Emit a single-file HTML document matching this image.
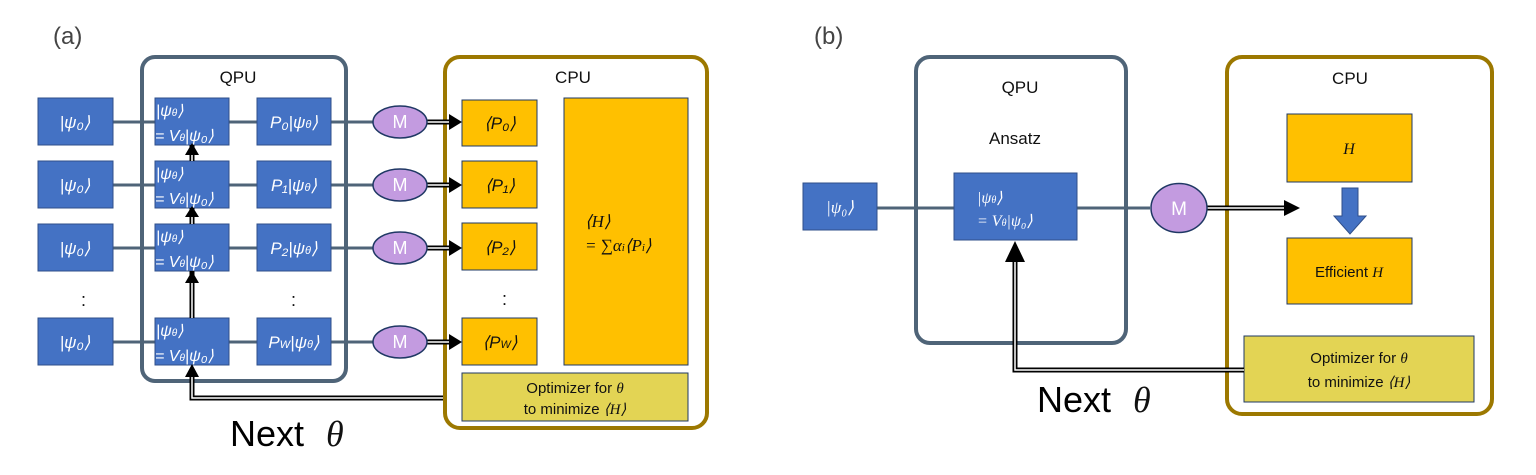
<!DOCTYPE html>
<html><head><meta charset="utf-8"><style>
html,body{margin:0;padding:0;background:#fff;}
svg{display:block;}
text{font-family:"Liberation Sans",sans-serif;}
.m{font-family:"Liberation Serif",serif;font-style:italic;fill:#fff;}
.mk{font-family:"Liberation Serif",serif;font-style:italic;fill:#111;}
</style></head><body>
<svg width="1536" height="475" viewBox="0 0 1536 475" xmlns="http://www.w3.org/2000/svg">
<text x="53" y="44" font-size="24" fill="#444">(a)</text>
<text x="814" y="44" font-size="24" fill="#444">(b)</text>

<g stroke="#4f6478" stroke-width="3">
<line x1="113" y1="122" x2="400" y2="122"/>
<line x1="113" y1="185" x2="400" y2="185"/>
<line x1="113" y1="248" x2="400" y2="248"/>
<line x1="113" y1="342" x2="400" y2="342"/>
</g>
<rect x="142" y="57" width="204" height="324" rx="13" fill="none" stroke="#4f6478" stroke-width="4"/>
<text x="238" y="83" font-size="17" fill="#111" text-anchor="middle">QPU</text>

<g fill="#4472c4" stroke="#2f4f8a" stroke-width="1">
<rect x="38" y="98" width="75" height="47"/><rect x="38" y="161" width="75" height="47"/>
<rect x="38" y="224" width="75" height="47"/><rect x="38" y="318" width="75" height="47"/>
<rect x="155" y="98" width="74" height="47"/><rect x="155" y="161" width="74" height="47"/>
<rect x="155" y="224" width="74" height="47"/><rect x="155" y="318" width="74" height="47"/>
<rect x="257" y="98" width="74" height="47"/><rect x="257" y="161" width="74" height="47"/>
<rect x="257" y="224" width="74" height="47"/><rect x="257" y="318" width="74" height="47"/>
</g>
<g class="m" font-size="17" text-anchor="middle">
<text x="75" y="128">|ψ₀⟩</text><text x="75" y="191">|ψ₀⟩</text><text x="75" y="254">|ψ₀⟩</text><text x="75" y="348">|ψ₀⟩</text>
<text x="294" y="128">P₀|ψ<tspan font-size="11">θ</tspan>⟩</text>
<text x="294" y="191">P₁|ψ<tspan font-size="11">θ</tspan>⟩</text>
<text x="294" y="254">P₂|ψ<tspan font-size="11">θ</tspan>⟩</text>
<text x="294" y="348">P<tspan font-size="11">W</tspan>|ψ<tspan font-size="11">θ</tspan>⟩</text>
</g>
<g class="m" font-size="16">
<text x="156" y="116">|ψ<tspan font-size="10">θ</tspan>⟩</text><text x="155" y="141">= V<tspan font-size="10">θ</tspan>|ψ₀⟩</text>
<text x="156" y="179">|ψ<tspan font-size="10">θ</tspan>⟩</text><text x="155" y="204">= V<tspan font-size="10">θ</tspan>|ψ₀⟩</text>
<text x="156" y="242">|ψ<tspan font-size="10">θ</tspan>⟩</text><text x="155" y="267">= V<tspan font-size="10">θ</tspan>|ψ₀⟩</text>
<text x="156" y="336">|ψ<tspan font-size="10">θ</tspan>⟩</text><text x="155" y="361">= V<tspan font-size="10">θ</tspan>|ψ₀⟩</text>
</g>
<text x="81" y="306" font-size="18" fill="#111">:</text>
<text x="291" y="306" font-size="18" fill="#111">:</text>

<g fill="none">
<path d="M192 318 V271 M192 224 V208 M192 161 V145" stroke="#000" stroke-width="5"/>
<path d="M192 318 V282 M192 224 V215 M192 161 V154" stroke="#fff" stroke-width="1.5"/>
<path d="M443 398 H192 V372" stroke="#000" stroke-width="5"/>
<path d="M443 398 H192 V376" stroke="#fff" stroke-width="1.5"/>
</g>
<g fill="#000">
<path d="M185 155 L199 155 L192 143 z"/><path d="M185 217 L199 217 L192 206 z"/>
<path d="M185 283 L199 283 L192 271 z"/><path d="M185 377 L199 377 L192 364 z"/>
</g>

<rect x="445" y="57" width="262" height="371" rx="15" fill="none" stroke="#9c7800" stroke-width="4"/>
<text x="573" y="83" font-size="17" fill="#111" text-anchor="middle">CPU</text>
<g fill="#ffc000" stroke="#1f3864" stroke-width="1">
<rect x="462" y="100" width="75" height="46"/><rect x="462" y="161" width="75" height="47"/>
<rect x="462" y="223" width="75" height="47"/><rect x="462" y="318" width="75" height="47"/>
<rect x="564" y="98" width="124" height="267"/>
</g>
<rect x="462" y="373" width="226" height="48" fill="#e3d454" stroke="#1f3864" stroke-width="1"/>
<g class="mk" font-size="17" text-anchor="middle">
<text x="500" y="129">⟨P₀⟩</text><text x="500" y="191">⟨P₁⟩</text><text x="500" y="253">⟨P₂⟩</text>
<text x="500" y="348">⟨P<tspan font-size="11">W</tspan>⟩</text>
</g>
<text x="502" y="305" font-size="18" fill="#111">:</text>
<text class="mk" x="585" y="227" font-size="17">⟨H⟩</text>
<text class="mk" x="585" y="251" font-size="17">= ∑α<tspan font-size="11">i</tspan>⟨P<tspan font-size="11">i</tspan>⟩</text>
<text x="575" y="393" font-size="15" fill="#111" text-anchor="middle">Optimizer for <tspan class="mk">θ</tspan></text>
<text x="575" y="414" font-size="15" fill="#111" text-anchor="middle">to minimize <tspan class="mk">⟨H⟩</tspan></text>

<g>
<path d="M427 122 H455 M427 185 H455 M427 248 H455 M427 342 H455" stroke="#000" stroke-width="5"/>
<path d="M427 122 H452 M427 185 H452 M427 248 H452 M427 342 H452" stroke="#fff" stroke-width="1.5"/>
<path d="M449 114 L462 122 L449 130z M449 177 L462 185 L449 193z M449 240 L462 248 L449 256z M449 334 L462 342 L449 350z" fill="#000"/>
<g fill="#c39be0" stroke="#1f3864" stroke-width="1.5">
<ellipse cx="400" cy="122" rx="27" ry="16"/><ellipse cx="400" cy="185" rx="27" ry="16"/>
<ellipse cx="400" cy="248" rx="27" ry="16"/><ellipse cx="400" cy="342" rx="27" ry="16"/>
</g>
<g font-size="18" fill="#fff" text-anchor="middle">
<text x="400" y="128">M</text><text x="400" y="191">M</text><text x="400" y="254">M</text><text x="400" y="348">M</text>
</g>
</g>
<text x="230" y="446" font-size="36" fill="#000">Next <tspan class="mk" fill="#000" dx="12">θ</tspan></text>

<line x1="877" y1="208" x2="1150" y2="208" stroke="#4f6478" stroke-width="3"/>
<rect x="916" y="57" width="210" height="286" rx="14" fill="none" stroke="#4f6478" stroke-width="4"/>
<text x="1020" y="93" font-size="17" fill="#111" text-anchor="middle">QPU</text>
<text x="1015" y="144" font-size="17" fill="#111" text-anchor="middle">Ansatz</text>
<rect x="803" y="183" width="74" height="47" fill="#4472c4" stroke="#2f4f8a"/>
<text class="m" x="840" y="213" font-size="17" text-anchor="middle">|ψ₀⟩</text>
<rect x="954" y="173" width="123" height="67" fill="#4472c4" stroke="#2f4f8a"/>
<text class="m" x="977" y="203" font-size="16">|ψ<tspan font-size="10">θ</tspan>⟩</text>
<text class="m" x="977" y="226" font-size="16">= V<tspan font-size="10">θ</tspan>|ψ₀⟩</text>
<rect x="1227" y="57" width="265" height="357" rx="15" fill="none" stroke="#9c7800" stroke-width="4"/>
<text x="1350" y="84" font-size="17" fill="#111" text-anchor="middle">CPU</text>
<rect x="1287" y="114" width="125" height="68" fill="#ffc000" stroke="#1f3864"/>
<text class="mk" x="1349" y="154" font-size="16" text-anchor="middle">H</text>
<path d="M1342 188 H1358 V216 H1366 L1350 234 L1334 216 H1342 z" fill="#4472c4" stroke="#2f4f8a"/>
<rect x="1287" y="238" width="125" height="66" fill="#ffc000" stroke="#1f3864"/>
<text x="1349" y="277" font-size="15" fill="#111" text-anchor="middle">Efficient <tspan class="mk">H</tspan></text>
<rect x="1244" y="336" width="230" height="66" fill="#e3d454" stroke="#1f3864"/>
<text x="1359" y="363" font-size="15" fill="#111" text-anchor="middle">Optimizer for <tspan class="mk">θ</tspan></text>
<text x="1359" y="387" font-size="15" fill="#111" text-anchor="middle">to minimize <tspan class="mk">⟨H⟩</tspan></text>
<path d="M1205 208 H1288" stroke="#000" stroke-width="5"/>
<path d="M1205 208 H1285" stroke="#fff" stroke-width="1.5"/>
<path d="M1284 200 L1300 208 L1284 216z" fill="#000"/>
<ellipse cx="1179" cy="208" rx="28" ry="24.5" fill="#c39be0" stroke="#1f3864" stroke-width="1.5"/>
<text x="1179" y="215" font-size="19" fill="#fff" text-anchor="middle">M</text>
<path d="M1244 370 H1015 V255" stroke="#000" stroke-width="5" fill="none"/>
<path d="M1244 370 H1015 V258" stroke="#fff" stroke-width="1.5" fill="none"/>
<path d="M1005 262 L1025 262 L1015 241z" fill="#000"/>
<text x="1037" y="412" font-size="36" fill="#000">Next <tspan class="mk" fill="#000" dx="12">θ</tspan></text>
</svg>
</body></html>
